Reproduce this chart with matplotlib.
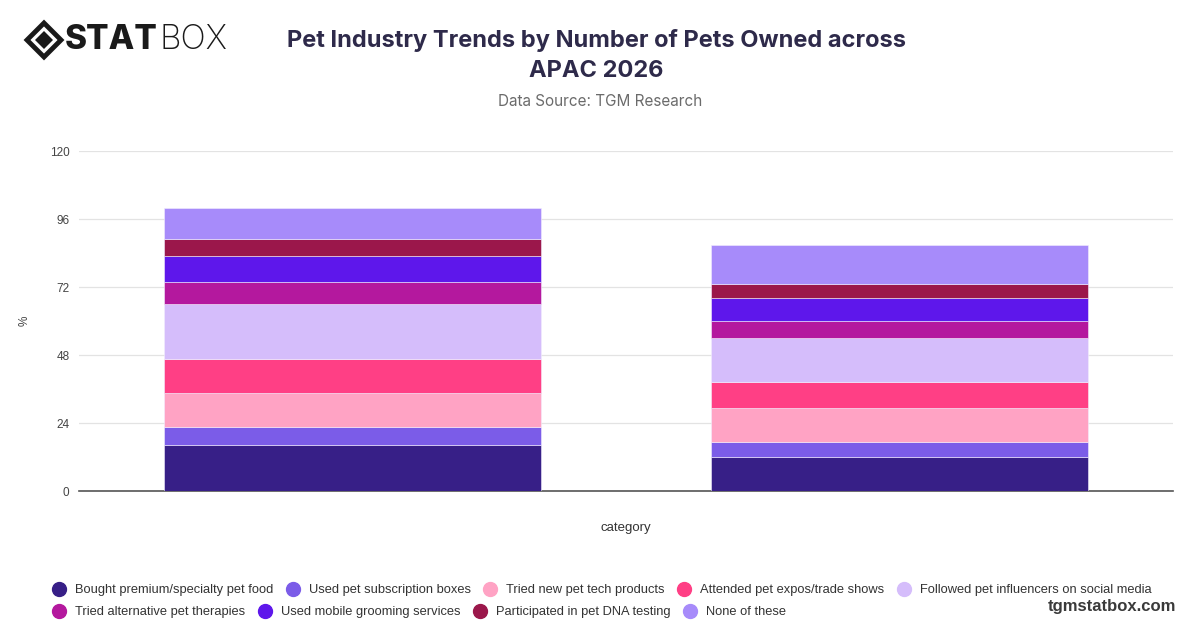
import numpy as np
import matplotlib
matplotlib.use("Agg")
import matplotlib.pyplot as plt
from matplotlib.patches import Polygon
from matplotlib.lines import Line2D

# data
categories = ["1 pet", "2+ pets"]
series = [
    "Bought premium/specialty pet food",
    "Used pet subscription boxes",
    "Tried new pet tech products",
    "Attended pet expos/trade shows",
    "Followed pet influencers on social media",
    "Tried alternative pet therapies",
    "Used mobile grooming services",
    "Participated in pet DNA testing",
    "None of these",
]
food = [16.3, 12.0]
subscription = [6.4, 5.3]
tech = [11.9, 12.0]
expos = [12.0, 9.1]
influencers = [19.3, 15.8]
therapies = [8.0, 5.8]
grooming = [9.2, 8.2]
dna = [5.8, 4.8]
none_of_these = [11.0, 13.9]
values = [food, subscription, tech, expos, influencers, therapies, grooming, dna, none_of_these]
colors = ["#371f87", "#7b5ce8", "#ffa3c4", "#ff3f85", "#d5bdfb",
          "#b4189e", "#5e17eb", "#9b174b", "#a78bfa"]
yticks = [0, 24, 48, 72, 96, 120]

plt.rcParams['font.family'] = ['Liberation Sans', 'DejaVu Sans']

fig = plt.figure(figsize=(12, 6.28), dpi=100)
ax = fig.add_axes([0.066, 0.218, 0.9115, 0.5414])

x = np.arange(len(categories))
bottom = np.zeros(len(categories))
for name, vals, c in zip(series, values, colors):
    ax.bar(x, vals, width=0.69, bottom=bottom, color=c, label=name,
           edgecolor="#f3eefe", linewidth=0.4, zorder=3)
    bottom += np.array(vals)

ax.set_xlim(-0.5, 1.5)
ax.set_ylim(0, 120)
ax.set_yticks(yticks)
ax.set_yticklabels([str(t) for t in yticks], fontsize=8.5, color="#444444")
ax.set_xticks([])
ax.grid(axis="y", color="#e3e3e3", linewidth=0.9, zorder=0)
for s in ["top", "right", "left"]:
    ax.spines[s].set_visible(False)
ax.spines["bottom"].set_color("#555555")
ax.spines["bottom"].set_linewidth(1.2)
ax.tick_params(axis="y", length=0, pad=7)
ax.set_xlabel("category", fontsize=9.5, color="#333333", labelpad=22)
ax.set_ylabel("%", fontsize=8.5, color="#444444", labelpad=14)

# title block
title_font = ["Inter", "DejaVu Sans"]
fig.text(0.497, 1 - 41 / 628, "Pet Industry Trends by Number of Pets Owned across",
         ha="center", va="center", fontsize=17, fontweight="bold",
         color="#2e2a4a", family=title_font)
fig.text(0.497, 1 - 71 / 628, "APAC 2026", ha="center", va="center", fontsize=17,
         fontweight="bold", color="#2e2a4a", family=title_font)
fig.text(0.5, 1 - 102 / 628, "Data Source: TGM Research", ha="center", va="center",
         fontsize=11, color="#6b6b6b", family=title_font)

# logo
def px(xp, yp):
    return (xp / 1200, 1 - yp / 628)

outer = Polygon([px(44, 23), px(61, 40), px(44, 57), px(27, 40)], closed=True,
                transform=fig.transFigure, facecolor="none", edgecolor="#1a1a1a",
                linewidth=3.5)
inner = Polygon([px(44, 31), px(53, 40), px(44, 49), px(35, 40)], closed=True,
                transform=fig.transFigure, facecolor="#1a1a1a", edgecolor="none")
fig.patches.extend([outer, inner])
stat = fig.text(65 / 1200, 1 - 40 / 628, "STAT", ha="left", va="center", fontsize=24,
                fontweight="heavy", color="#1a1a1a", family=title_font)
renderer = fig.canvas.get_renderer()
bb = stat.get_window_extent(renderer=renderer)
fig.text(bb.x1 / 1200 + 0.001, 1 - 40 / 628, "BOX", ha="left", va="center",
         fontsize=24, fontweight="light", color="#1a1a1a", family=title_font)

# legend, two flowing rows
leg_kw = dict(frameon=False, fontsize=9.3, handlelength=0.9, handleheight=0.9,
              handletextpad=0.8, columnspacing=1.05, borderaxespad=0,
              labelcolor="#333333")
mk = [Line2D([], [], marker="o", linestyle="none", markersize=10,
             markerfacecolor=c, markeredgecolor=c) for c in colors]
fig.legend(mk[:5], series[:5], loc="center left",
           bbox_to_anchor=(0.04, 1 - 590 / 628), ncol=5, **leg_kw)
fig.legend(mk[5:], series[5:], loc="center left",
           bbox_to_anchor=(0.04, 1 - 612 / 628), ncol=4, **leg_kw)

fig.text(0.98, 1 - 606 / 628, "tgmstatbox.com", ha="right", va="center",
         fontsize=12, fontweight="bold", color="#3a3a3a")

fig.savefig("out.png", dpi=100)
